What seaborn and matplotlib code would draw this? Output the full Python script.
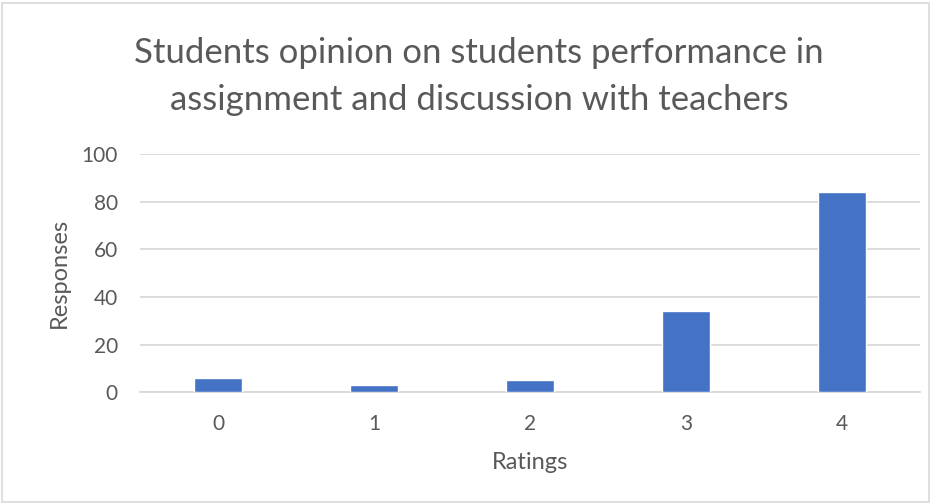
import matplotlib
matplotlib.use("Agg")
import matplotlib.pyplot as plt
import seaborn as sns
import pandas as pd
from matplotlib.patches import Rectangle

ratings = ["0", "1", "2", "3", "4"]
responses = [6, 3, 5, 34, 84]
yticks = [0, 20, 40, 60, 80, 100]

df = pd.DataFrame({"Ratings": ratings, "Responses": responses})

sns.set_style("white")
plt.rcParams["font.family"] = ["Lato", "DejaVu Sans"]

fig = plt.figure(figsize=(9.36, 5.04), dpi=100)
ax = fig.add_axes([0.1496, 0.222, 0.8334, 0.472])

sns.barplot(data=df, x="Ratings", y="Responses", color="#4472C4",
            width=0.31, saturation=1, ax=ax, zorder=3)

ax.set_ylim(0, 100)
ax.set_yticks(yticks)
ax.yaxis.grid(True, color="#d9d9d9", linewidth=1.3, zorder=0)
for s in ["top", "right", "left"]:
    ax.spines[s].set_visible(False)
ax.spines["bottom"].set_color("#d9d9d9")
ax.spines["bottom"].set_linewidth(1.3)
ax.tick_params(axis="both", length=0, labelsize=15, labelcolor="#595959")
ax.tick_params(axis="y", pad=16)
ax.tick_params(axis="x", pad=16)

ax.set_xlabel("Ratings", fontsize=17, color="#595959", labelpad=13)
ax.set_ylabel("Responses", fontsize=17, color="#595959", labelpad=8)

fig.text(0.512, 0.848, "Students opinion on students performance in\nassignment and discussion with teachers",
         ha="center", va="center", fontsize=25, color="#595959", linespacing=1.6)

fig.patches.append(Rectangle((0.002, 0.004), 0.99, 0.99, transform=fig.transFigure,
                             fill=False, edgecolor="#d9d9d9", linewidth=1.2))

fig.savefig("out.png", dpi=100)
